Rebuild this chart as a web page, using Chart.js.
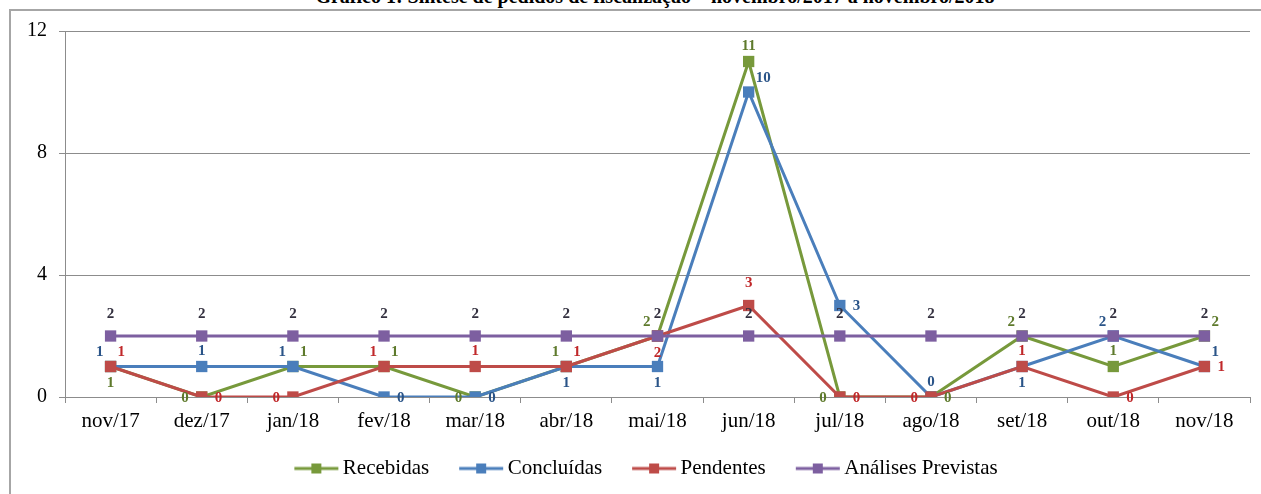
<!DOCTYPE html>
<html>
<head>
<meta charset="utf-8">
<script src="https://cdn.jsdelivr.net/npm/chart.js@4.4.0/dist/chart.umd.min.js"></script>
<style>
html, body { margin: 0; padding: 0; background: #fff; overflow: hidden; }
#wrap { position: relative; width: 1261px; height: 494px; }
#titulo { position: absolute; left: 0; top: -14px; width: 1310px; text-align: center;
  font: bold 20px "Liberation Serif", serif; line-height: 20px; color: #000; }
#moldura { position: absolute; left: 9px; top: 9px; width: 1300px; height: 600px;
  border: 2px solid #a6a6a6; pointer-events: none; }
canvas { position: absolute; left: 0; top: 0; }
</style>
</head>
<body>
<div id="wrap">
  <div id="titulo">Gráfico 1: Síntese de pedidos de fiscalização – novembro/2017 a novembro/2018</div>
  <canvas id="grafico" width="1261" height="494"></canvas>
  <div id="moldura"></div>
</div>
<script>
// meses do periodo
const meses = ['nov/17', 'dez/17', 'jan/18', 'fev/18', 'mar/18', 'abr/18', 'mai/18',
               'jun/18', 'jul/18', 'ago/18', 'set/18', 'out/18', 'nov/18'];

// valores
const recebidas  = [1, 0, 1, 1, 0, 1, 2, 11, 0, 0, 2, 1, 2];
const concluidas = [1, 1, 1, 0, 0, 1, 1, 10, 3, 0, 1, 2, 1];
const pendentes  = [1, 0, 0, 1, 1, 1, 2, 3, 0, 0, 1, 0, 1];
const previstas  = [2, 2, 2, 2, 2, 2, 2, 2, 2, 2, 2, 2, 2];

const yMin = 0, yMax = 12, yPasso = 4;

// onde fica o rotulo de cada ponto (t=cima, tt=mais acima, b=baixo, l=esq, r=dir)
const posRecebidas  = ['b', 'l', 'tr', 'tr', 'l', 'tl', 'tl', 't', 'l', 'r', 'tl', 't', 'tr'];
const posConcluidas = ['tl', 't', 'tl', 'r', 'r', 'b', 'b', 'tr', 'r', 't', 'b', 'tl', 'tr'];
const posPendentes  = ['tr', 'r', 'l', 'tl', 't', 'tr', 'b', 'tt', 'r', 'l', 't', 'r', 'r'];
const posPrevistas  = ['tt', 'tt', 'tt', 'tt', 'tt', 'tt', 'tt', 'tt', 'tt', 'tt', 'tt', 'tt', 'tt'];

const deslocamentos = {
    t:  [0, -15, 'center'],
    tt: [0, -22, 'center'],
    b:  [0, 17, 'center'],
    l:  [-13, 1, 'right'],
    r:  [13, 1, 'left'],
    tl: [-7, -14, 'right'],
    tr: [7, -14, 'left']
};

//desenha o simbolo da legenda (linha + quadrado)
function marcador(cor) {
    const c = document.createElement('canvas');
    c.width = 72;
    c.height = 14;
    const g = c.getContext('2d');
    g.strokeStyle = cor;
    g.lineWidth = 3;
    g.beginPath();
    g.moveTo(27, 7);
    g.lineTo(71, 7);
    g.stroke();
    g.fillStyle = cor;
    g.fillRect(44, 2, 10, 10);
    return c;
}

//rotulos de valor
const rotulos = {
    id: 'rotulos',
    afterLayout(chart) {
        // legenda um pouco para a direita, como no original
        chart.legend.left += 11;
        chart.legend.right += 11;
    },
    afterDatasetsDraw(chart) {
        const ctx = chart.ctx;
        ctx.save();
        ctx.font = 'bold 15px "Liberation Serif"';
        ctx.textBaseline = 'middle';
        chart.data.datasets.forEach(function (ds, i) {
            const meta = chart.getDatasetMeta(i);
            ctx.fillStyle = ds.corRotulo;
            meta.data.forEach(function (pt, j) {
                const d = deslocamentos[ds.posRotulo[j]];
                ctx.textAlign = d[2];
                ctx.fillText(String(ds.data[j]), pt.x + d[0], pt.y + d[1]);
            });
        });
        ctx.restore();
    }
};

function serie(nome, dados, cor, corRotulo, pos, ordem) {
    return {
        label: nome,
        data: dados,
        borderColor: cor,
        backgroundColor: cor,
        borderWidth: 3,
        pointStyle: 'rect',
        pointRadius: 8,
        pointBorderWidth: 0,
        pointBackgroundColor: cor,
        tension: 0,
        fill: false,
        order: ordem,
        corRotulo: corRotulo,
        posRotulo: pos,
        legendaImg: marcador(cor)
    };
}

Chart.defaults.font.family = '"Liberation Serif", "Times New Roman", serif';
Chart.defaults.color = '#000';

const ctx = document.getElementById('grafico');
new Chart(ctx, {
    type: 'line',
    data: {
        labels: meses,
        datasets: [
            serie('Recebidas', recebidas, '#77993b', '#5e7a2c', posRecebidas, 4),
            serie('Concluídas', concluidas, '#4a7ebb', '#2a5488', posConcluidas, 3),
            serie('Pendentes', pendentes, '#be4b48', '#c0282a', posPendentes, 2),
            serie('Análises Previstas', previstas, '#7d5fa0', '#33303f', posPrevistas, 1)
        ]
    },
    options: {
        responsive: false,
        animation: false,
        layout: { padding: { top: 31, right: 11, bottom: 5, left: 0 } },
        plugins: {
            tooltip: { enabled: false },
            title: { display: false },
            legend: {
                position: 'bottom',
                labels: {
                    usePointStyle: true,
                    pointStyleWidth: 58,
                    padding: 10,
                    font: { size: 21 },
                    color: '#000',
                    sort: function (a, b) { return a.datasetIndex - b.datasetIndex; },
                    generateLabels: function (chart) {
                        return chart.data.datasets.map(function (ds, i) {
                            return {
                                text: ds.label,
                                datasetIndex: i,
                                pointStyle: ds.legendaImg,
                                fillStyle: ds.borderColor,
                                strokeStyle: ds.borderColor,
                                lineWidth: 0,
                                hidden: false
                            };
                        });
                    }
                }
            }
        },
        scales: {
            x: {
                offset: true,
                grid: {
                    display: true,
                    offset: true,
                    drawOnChartArea: false,
                    drawTicks: true,
                    tickLength: 6,
                    color: '#8c8c8c'
                },
                border: { display: true, color: '#8c8c8c', width: 1 },
                ticks: { font: { size: 21 }, padding: 6, color: '#000', maxRotation: 0 },
                afterFit: function (scale) { scale.height = 51; }
            },
            y: {
                min: yMin,
                max: yMax,
                grid: { color: '#8c8c8c', tickLength: 6 },
                border: { display: true, color: '#8c8c8c', width: 1 },
                ticks: { stepSize: yPasso, font: { size: 20 }, padding: 12, color: '#000' },
                afterFit: function (scale) { scale.width = 65; }
            }
        }
    },
    plugins: [rotulos]
});
</script>
</body>
</html>
